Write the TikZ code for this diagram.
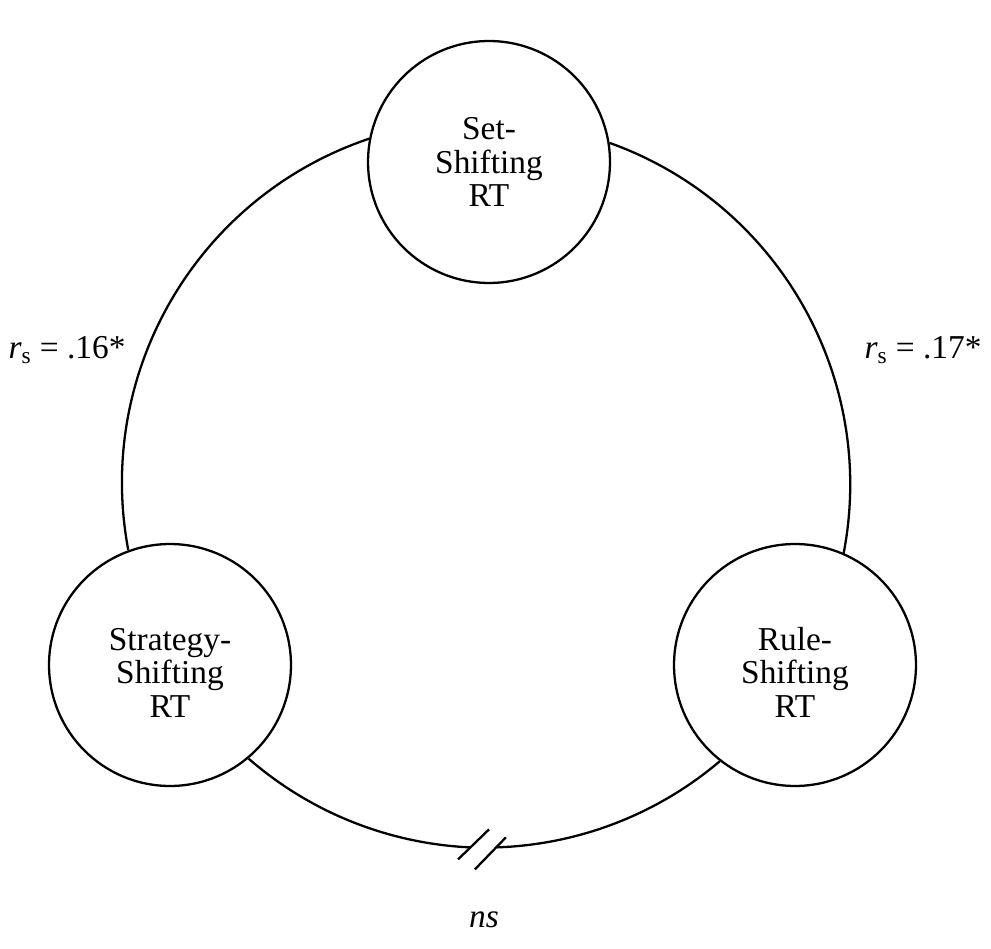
\documentclass[tikz,border=0pt]{standalone}
\usepackage{fontspec}
\setmainfont{Liberation Serif}

\begin{document}
\begin{tikzpicture}[x=0.02cm,y=0.02cm]
	\tikzstyle{task} = [draw, fill=white, shape=circle, minimum size=4.84cm, inner sep=0pt, align=center, line width=1.3pt, font=\fontsize{19}{19.2}\selectfont, text height=60pt, text depth=0pt]
	\tikzstyle{coef} = [font=\fontsize{19}{19.2}\selectfont]
	\tikzstyle{link} = [line width=1.3pt]
	\useasboundingbox (0,0) rectangle (991,-949);
	%Creating Task Nodes and Labels
	\node [task, text height=51pt] (set) at (489,-162) {Set-\\Shifting\\RT};
	\node [task] (strategy) at (170,-665) {Strategy-\\Shifting\\RT};
	\node [task] (rule) at (795,-665) {Rule-\\Shifting\\RT};
	\node [coef] (rleft) at (67,-350) {\textit{r}\textsubscript{s} = .16*};
	\node [coef] (rright) at (923,-350) {\textit{r}\textsubscript{s} = .17*};
	\node [coef] (ns) at (484,-920) {\textit{ns}};
	%Connecting Task Nodes
	\begin{scope}[link]
	\draw (set.169.5) arc[start angle=108.6, end angle=190.65, radius=7.26cm];
	\draw (set.9.4) arc[start angle=70.3, end angle=-11.07, radius=7.26cm];
	\draw (strategy.-50) arc[start angle=228.95, end angle=267.5, radius=7.26cm] coordinate (cutL);
	\draw (rule.232.3) arc[start angle=310.35, end angle=271.9, radius=7.26cm] coordinate (cutR);
	\draw ([shift={(-13,-12)}]cutL) -- ([shift={(18,18)}]cutL);
	\draw ([shift={(-22,-22)}]cutR) -- ([shift={(9,10)}]cutR);
	\end{scope}
\end{tikzpicture}
\end{document}
